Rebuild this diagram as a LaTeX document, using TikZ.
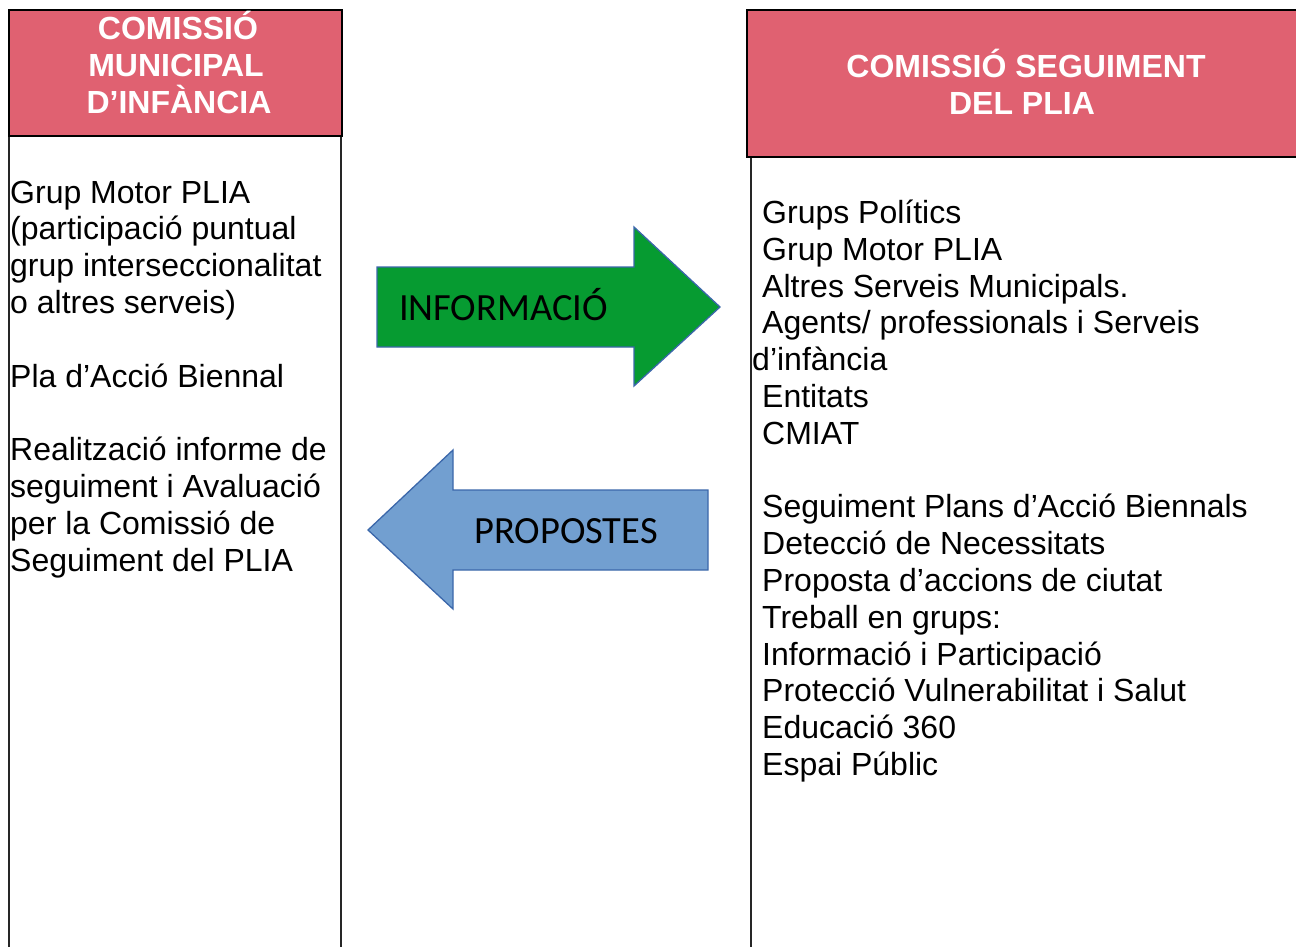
\documentclass[tikz,border=0pt]{standalone}
\usepackage{fontspec}
\setmainfont{Liberation Sans}
\newfontfamily\calib{Carlito}
\definecolor{hdrred}{HTML}{E06171}
\definecolor{arrgreen}{HTML}{069B31}
\definecolor{arrblue}{HTML}{729FD0}
\definecolor{arredge}{HTML}{3B67AA}
\begin{document}
\begin{tikzpicture}[x=1pt,y=-1pt,
  hdrbox/.style={fill=hdrred,draw=black,line width=2.4pt},
  bodyline/.style={draw=black!85,line width=2.2pt},
  htxt/.style={anchor=base,inner sep=0pt,text=white,font=\fontsize{32}{37}\selectfont\bfseries},
  btxt/.style={anchor=base west,inner sep=0pt,font=\fontsize{32}{36.8}\selectfont},
  arrtxt/.style={anchor=base,inner sep=0pt,font=\calib\fontsize{38.5}{42}\selectfont},
  arrshape/.style={draw=arredge,line width=1.3pt,line join=miter}]
\useasboundingbox (0,0) rectangle (1296,947);

% left column
\draw[bodyline] (9,136) -- (9,950);
\draw[bodyline] (341,136) -- (341,950);
\draw[hdrbox] (9,10) rectangle (342,136);
\node[htxt] (lh1) at (178,39.5) {COMISSIÓ};
\node[htxt] (lh2) at (176,76.5) {MUNICIPAL};
\node[htxt] (lh3) at (179,113.5) {D’INFÀNCIA};

% right column
\draw[bodyline] (751,157) -- (751,950);
\draw[hdrbox] (747,10) rectangle (1310,157);
\node[htxt] (rh1) at (1026,77.5) {COMISSIÓ SEGUIMENT};
\node[htxt] (rh2) at (1022,114.5) {DEL PLIA};

% left text
\node[btxt] (l1) at (10,203) {Grup Motor PLIA};
\node[btxt] (l2) at (10,239.8) {(participació puntual};
\node[btxt] (l3) at (10,276.6) {grup interseccionalitat};
\node[btxt] (l4) at (10,313.4) {o altres serveis)};
\node[btxt] (l5) at (10,387) {Pla d’Acció Biennal};
\node[btxt] (l6) at (10,460.6) {Realització informe de};
\node[btxt] (l7) at (10,497.4) {seguiment i Avaluació};
\node[btxt] (l8) at (10,534.2) {per la Comissió de};
\node[btxt] (l9) at (10,571) {Seguiment del PLIA};

% right text
\node[btxt] (r1) at (762,223.5) {Grups Polítics};
\node[btxt] (r2) at (762,260.3) {Grup Motor PLIA};
\node[btxt] (r3) at (762,297.1) {Altres Serveis Municipals.};
\node[btxt] (r4) at (762,333.9) {Agents/ professionals i Serveis};
\node[btxt] (r5) at (752,370.7) {d’infància};
\node[btxt] (r6) at (762,407.5) {Entitats};
\node[btxt] (r7) at (762,444.3) {CMIAT};
\node[btxt] (r8) at (762,517.9) {Seguiment Plans d’Acció Biennals};
\node[btxt] (r9) at (762,554.7) {Detecció de Necessitats};
\node[btxt] (r10) at (762,591.5) {Proposta d’accions de ciutat};
\node[btxt] (r11) at (762,628.3) {Treball en grups:};
\node[btxt] (r12) at (762,665.1) {Informació i Participació};
\node[btxt] (r13) at (762,701.9) {Protecció Vulnerabilitat i Salut};
\node[btxt] (r14) at (762,738.7) {Educació 360};
\node[btxt] (r15) at (762,775.5) {Espai Públic};

% arrows
\draw[arrshape,fill=arrgreen] (377,267) -- (634,267) -- (634,227) -- (720,307) -- (634,386) -- (634,347) -- (377,347) -- cycle;
\node[arrtxt] (info) at (503.5,320) {INFORMACIÓ};
\draw[arrshape,fill=arrblue] (708,490) -- (453,490) -- (453,450) -- (368,530) -- (453,609) -- (453,570) -- (708,570) -- cycle;
\node[arrtxt] (prop) at (566,543) {PROPOSTES};
\end{tikzpicture}
\end{document}
